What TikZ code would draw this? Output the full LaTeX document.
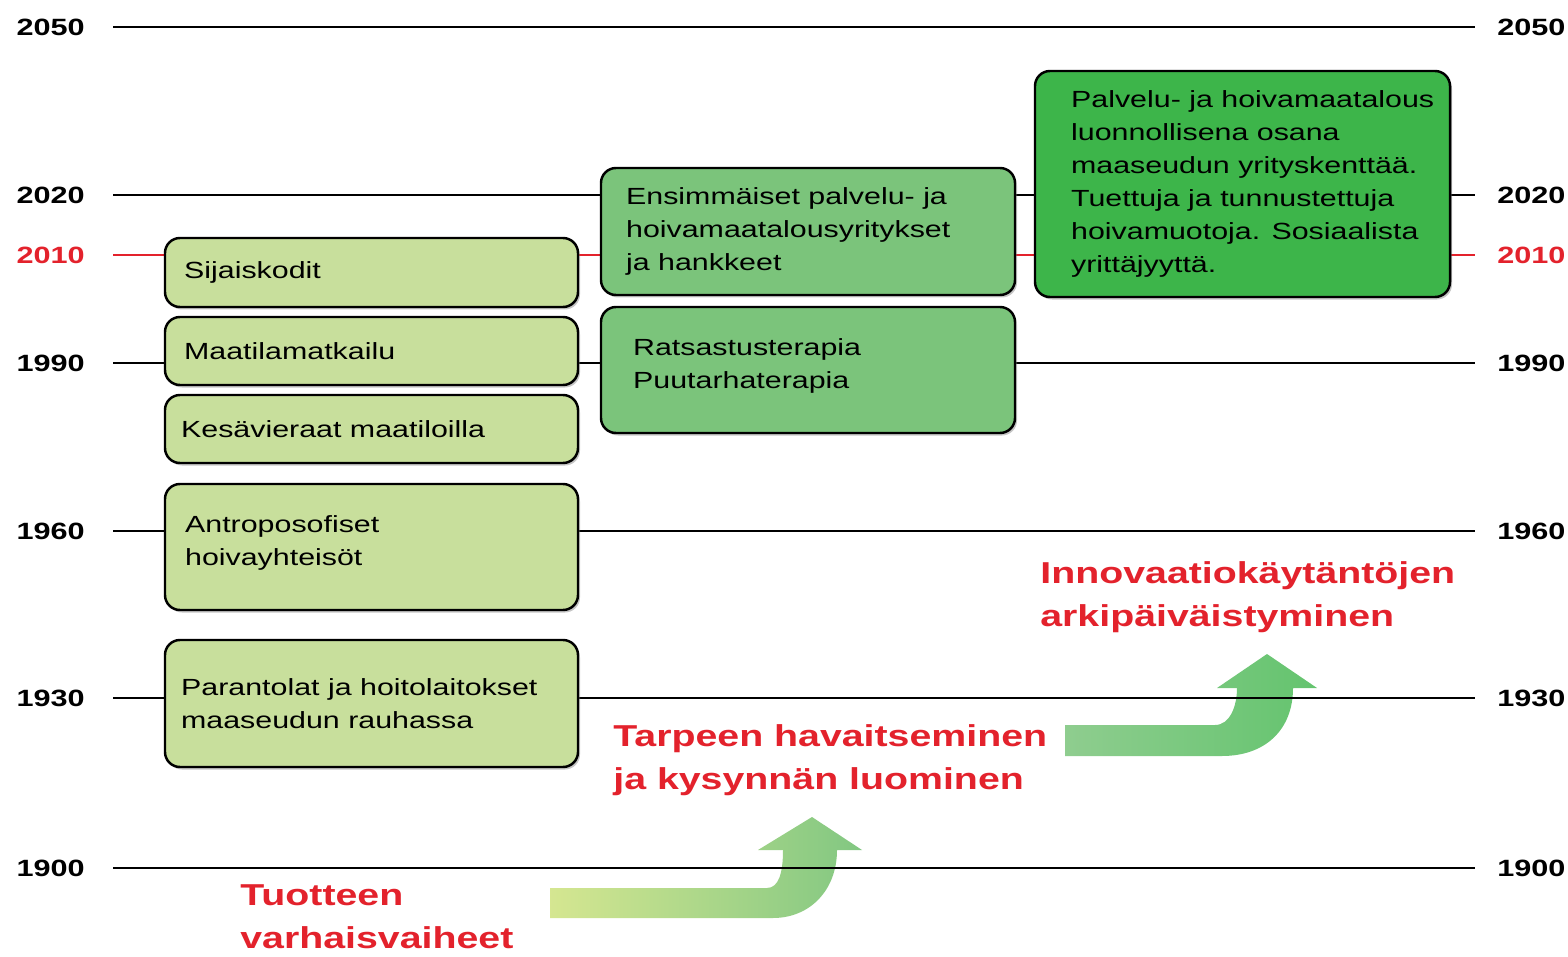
\documentclass[tikz,border=0pt]{standalone}
\usepackage{fontspec}
\setmainfont{Liberation Sans}[FakeStretch=1.3]
\usetikzlibrary{shadows}
\definecolor{paleleaf}{HTML}{C8DF9C}
\definecolor{midleaf}{HTML}{7BC47B}
\definecolor{deepleaf}{HTML}{3DB54A}
\definecolor{alertred}{HTML}{E3222C}
\tikzset{
	yearlbl/.style={font=\bfseries\fontsize{13.4}{16}\selectfont, inner sep=0},
	box/.style={draw=black, line width=1.4pt, rounded corners=3mm, inner sep=0,
		drop shadow={shadow xshift=0.4mm, shadow yshift=-0.5mm, opacity=0.45}},
	boxtext/.style={font=\fontsize{13.3}{18.7}\selectfont, align=left, anchor=west, inner sep=0},
	phase/.style={font=\bfseries\fontsize{17.2}{24.5}\selectfont, text=alertred, align=left, anchor=north west, inner sep=0}
}
\newcommand{\yearline}[3] % year, y in px, colour
{
	% labels on both sides
	\node[yearlbl, text=#3, anchor=east] (l#1) at (85,#2) {#1};
	\node[yearlbl, text=#3, anchor=west] (r#1) at (1497,#2) {#1};
	% time line
	\draw[#3, line width=1pt, shorten <=5.6mm, shorten >=4.4mm] (l#1) -- (r#1);
}

\begin{document}
\begin{tikzpicture}[x=0.2mm, y=-0.2mm]
	% 1568 x 957 px, y downwards
	\useasboundingbox (0,0) rectangle (1568,957);
	
	% bent arrows
	\shade[left color=paleleaf!85!yellow!90!white, right color=midleaf!95!white]
		(550,888) -- (767,888) .. controls (779,888) and (783,872) .. (783,850)
		-- (758,850) -- (812,817) -- (862,850) -- (837,850)
		.. controls (837,890) and (810,918) .. (773,918) -- (550,918) -- cycle;
	\shade[left color=midleaf!85!white, right color=deepleaf!80!white]
		(1065,725) -- (1215,725) .. controls (1230,725) and (1237,706) .. (1237,688)
		-- (1217,688) -- (1267,654) -- (1317,688) -- (1293,688)
		.. controls (1293,730) and (1265,756) .. (1222,756) -- (1065,756) -- cycle;
	
	\yearline{2050}{27}{black};
	\yearline{2020}{195}{black};
	\yearline{2010}{255}{alertred};
	\yearline{1990}{363}{black};
	\yearline{1960}{531}{black};
	\yearline{1930}{698}{black};
	\yearline{1900}{868}{black};
	
	% left column
	\node[box, fill=paleleaf, minimum width=82.6mm, minimum height=13.8mm] (sij) at (371.5,272.5) {};
	\node[box, fill=paleleaf, minimum width=82.6mm, minimum height=13.6mm] (maa) at (371.5,351) {};
	\node[box, fill=paleleaf, minimum width=82.6mm, minimum height=13.6mm] (kes) at (371.5,429) {};
	\node[box, fill=paleleaf, minimum width=82.6mm, minimum height=25.2mm] (ant) at (371.5,547) {};
	\node[box, fill=paleleaf, minimum width=82.6mm, minimum height=25.4mm] (par) at (371.5,703.5) {};
	\node[boxtext] (sijt) at ([xshift=4mm]sij.west) {Sijaiskodit};
	\node[boxtext] (maat) at ([xshift=4mm]maa.west) {Maatilamatkailu};
	\node[boxtext] (kest) at ([xshift=3.4mm]kes.west) {Kesävieraat maatiloilla};
	\node[boxtext] (antt) at ([xshift=4.2mm,yshift=0.8mm]ant.west) {Antroposofiset\\hoivayhteisöt};
	\node[boxtext] (part) at ([xshift=3.4mm]par.west) {Parantolat ja hoitolaitokset\\maaseudun rauhassa};
	
	% middle column
	\node[box, fill=midleaf, minimum width=82.8mm, minimum height=25.4mm] (ens) at (808,231.5) {};
	\node[box, fill=midleaf, minimum width=82.8mm, minimum height=25.2mm] (rat) at (808,370) {};
	\node[boxtext] (enst) at ([xshift=5.2mm]ens.west) {Ensimmäiset palvelu- ja\\hoivamaatalousyritykset\\ja hankkeet};
	\node[boxtext] (ratt) at ([xshift=6.6mm,yshift=0.8mm]rat.west) {Ratsastusterapia\\Puutarhaterapia};
	
	% right column
	\node[box, fill=deepleaf, minimum width=83mm, minimum height=45.2mm] (pal) at (1242.5,184) {};
	\node[boxtext] (palt) at ([xshift=7.4mm]pal.west) {Palvelu- ja hoivamaatalous\\luonnollisena osana\\maaseudun yrityskenttää.\\Tuettuja ja tunnustettuja\\hoivamuotoja. Sosiaalista\\yrittäjyyttä.};
	
	% phases
	\node[phase] (early) at (240,884) {Tuotteen\\varhaisvaiheet};
	\node[phase] (need) at (613,724) {Tarpeen havaitseminen\\ja kysynnän luominen};
	\node[phase] (daily) at (1040,561) {Innovaatiokäytäntöjen\\arkipäiväistyminen};
\end{tikzpicture}
\end{document}
